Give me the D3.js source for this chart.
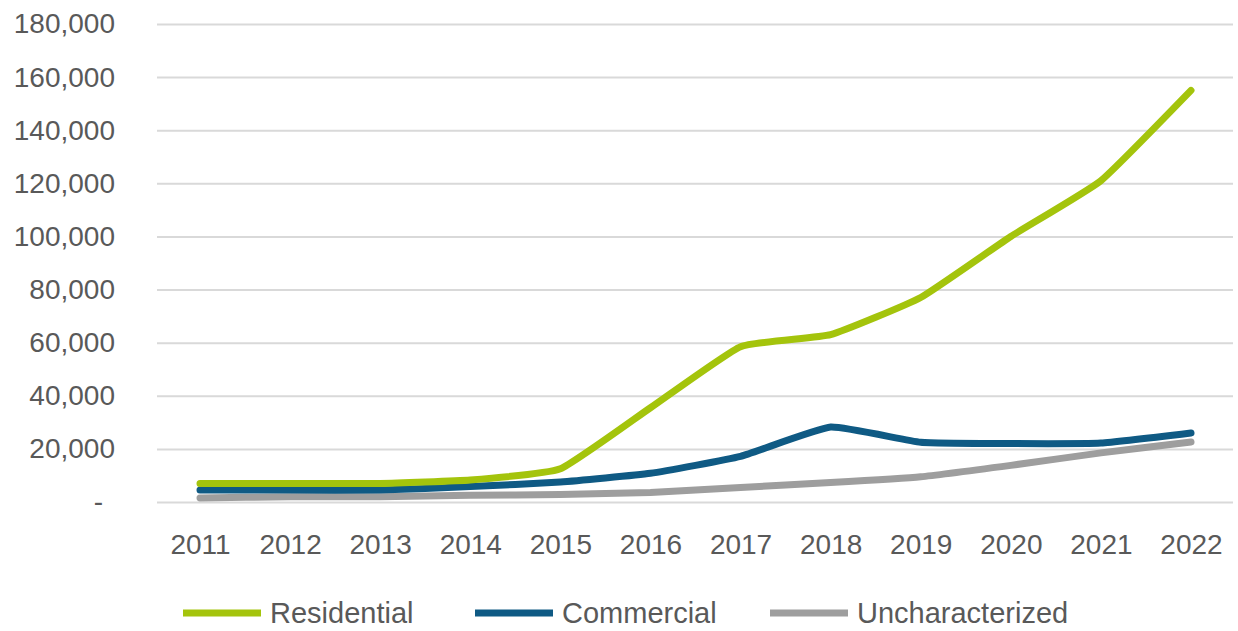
<!DOCTYPE html>
<html>
<head>
<meta charset="utf-8">
<script src="https://cdn.jsdelivr.net/npm/d3@7"></script>
<style>
  html, body { margin: 0; padding: 0; background: #ffffff; }
  svg { display: block; }
  text { font-family: "Liberation Sans", Arial, sans-serif; fill: #595959; }
</style>
</head>
<body>
<svg id="chart" width="1238" height="631"></svg>
<script>
// Annual counts by customer class
const years = ["2011", "2012", "2013", "2014", "2015", "2016", "2017", "2018", "2019", "2020", "2021", "2022"];
const residential = [7000, 7000, 7000, 8300, 12500, 35500, 58500, 63000, 77000, 100000, 121000, 155000];
const commercial = [4500, 4500, 4500, 5800, 7500, 10800, 17200, 28200, 22500, 22000, 22200, 26000];
const uncharacterized = [1500, 2000, 2000, 2500, 2800, 3600, 5500, 7300, 9500, 13800, 18500, 22600];
const seriesNames = ["Residential", "Commercial", "Uncharacterized"];
const seriesColors = ["#a4c40c", "#0f5a84", "#9e9e9e"];
const yTicks = [0, 20000, 40000, 60000, 80000, 100000, 120000, 140000, 160000, 180000];

const series = [residential, commercial, uncharacterized].map((vals, i) => ({
  name: seriesNames[i],
  color: seriesColors[i],
  points: years.map((yr, j) => ({ year: yr, value: vals[j] }))
}));

const svg = d3.select("#chart");

const gridLeft = 157, gridRight = 1233;
const x = d3.scalePoint().domain(years).range([200, 1191]);
const y = d3.scaleLinear().domain([0, 180000]).range([502, 24]);

// Horizontal gridlines
svg.append("g")
  .attr("transform", `translate(${gridLeft},0)`)
  .call(d3.axisRight(y).tickValues(yTicks).tickSize(gridRight - gridLeft).tickFormat(""))
  .call(g => g.select(".domain").remove())
  .call(g => g.selectAll(".tick line").attr("stroke", "#d9d9d9").attr("stroke-width", 2));

// Y axis labels (zero shown as a dash)
const fmt = d3.format(",");
svg.append("g")
  .attr("transform", "translate(115,0)")
  .call(d3.axisLeft(y).tickValues(yTicks).tickSize(0).tickPadding(0)
    .tickFormat(d => d === 0 ? "-" : fmt(d)))
  .call(g => g.select(".domain").remove())
  .call(g => g.selectAll(".tick text")
    .attr("font-size", 28)
    .attr("fill", "#595959")
    .style("font-family", "'Liberation Sans', Arial, sans-serif")
    .attr("dx", d => d === 0 ? -12 : 0));

// X axis labels
svg.append("g")
  .attr("transform", "translate(0,527)")
  .call(d3.axisBottom(x).tickSize(0).tickPadding(0))
  .call(g => g.select(".domain").remove())
  .call(g => g.selectAll(".tick text")
    .attr("font-size", 28)
    .attr("dy", "0.95em")
    .attr("fill", "#595959")
    .style("font-family", "'Liberation Sans', Arial, sans-serif"));

// Series lines with light smoothing
const line = d3.line()
  .x(d => x(d.year))
  .y(d => y(d.value))
  .curve(d3.curveCardinal.tension(0.6));

svg.append("g")
  .selectAll("path")
  .data(series.slice().reverse())
  .join("path")
  .attr("d", d => line(d.points))
  .attr("fill", "none")
  .attr("stroke", d => d.color)
  .attr("stroke-width", 7)
  .attr("stroke-linecap", "round")
  .attr("stroke-linejoin", "round");

// Legend
const legendX = [183, 475, 770];
const legend = svg.append("g")
  .selectAll("g")
  .data(series)
  .join("g")
  .attr("transform", (d, i) => `translate(${legendX[i]},613)`);

legend.append("line")
  .attr("x1", 0).attr("x2", 78)
  .attr("y1", 0).attr("y2", 0)
  .attr("stroke", d => d.color)
  .attr("stroke-width", 7);

legend.append("text")
  .attr("x", 87)
  .attr("dy", "0.36em")
  .attr("font-size", 29)
  .text(d => d.name);
</script>
</body>
</html>
